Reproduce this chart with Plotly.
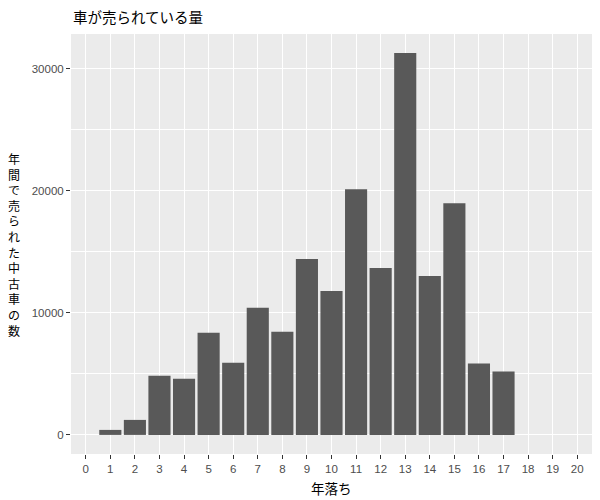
import plotly.graph_objects as go

# 年落ち (years since first registration) and used cars sold per year
years = [1, 2, 3, 4, 5, 6, 7, 8, 9, 10, 11, 12, 13, 14, 15, 16, 17]
counts = [410, 1230, 4840, 4590, 8360, 5900, 10410, 8440, 14400,
          11790, 20110, 13670, 31270, 13020, 18970, 5840, 5190]
x_ticks = list(range(0, 21))
y_ticks = [0, 10000, 20000, 30000]

title = "車が売られている量"
x_title = "年落ち"
y_title = "年間で売られた中古車の数"

jp_font = "Noto Sans CJK JP, Liberation Sans, sans-serif"
num_font = "Liberation Sans, Arial, sans-serif"

# panel box in pixels: left 71, right 592, top 34, bottom 454
W, H = 600, 500
L, R, T, B = 71, 8, 34, 46
pw, ph = W - L - R, H - T - B

fig = go.Figure()
fig.add_trace(go.Bar(x=years, y=counts, width=0.9,
                     marker=dict(color="#595959", line=dict(width=0)),
                     hoverinfo="x+y"))

fig.update_layout(
    width=W, height=H,
    margin=dict(l=L, r=R, t=T, b=B, autoexpand=False),
    paper_bgcolor="white",
    plot_bgcolor="#EBEBEB",
    showlegend=False,
    font=dict(family=num_font),
)

fig.update_xaxes(
    range=[-0.6, 20.6], tickvals=x_ticks, ticktext=[str(t) for t in x_ticks],
    showgrid=True, gridcolor="white", gridwidth=1.1, zeroline=False,
    ticks="outside", ticklen=4, tickcolor="#333333", tickwidth=1.1,
    tickfont=dict(family=num_font, size=11.5, color="#4D4D4D"),
    automargin=False, showline=False,
)
fig.update_yaxes(
    range=[-1563, 32833], tickvals=y_ticks, ticktext=[str(t) for t in y_ticks],
    showgrid=True, gridcolor="white", gridwidth=1.1, zeroline=False,
    minor=dict(dtick=5000, tick0=0, showgrid=True, gridcolor="white", gridwidth=0.6),
    ticks="outside", ticklen=4, tickcolor="#333333", tickwidth=1.1,
    tickfont=dict(family=num_font, size=11.5, color="#4D4D4D"),
    automargin=False, showline=False,
)

# title, top-left above the panel
fig.add_annotation(
    text=title, xref="paper", yref="paper",
    x=0, xanchor="left", y=1 + (T - 17) / ph, yanchor="middle",
    showarrow=False, font=dict(family=jp_font, size=14.5, color="black"),
)
# x axis title under the tick labels
fig.add_annotation(
    text=x_title, xref="paper", yref="paper",
    x=0.5, xanchor="center", y=-(488 - (H - B)) / ph, yanchor="middle",
    showarrow=False, font=dict(family=jp_font, size=13.5, color="black"),
)
# vertical, character-stacked y axis title like the original
fig.add_annotation(
    text="<br>".join(y_title), xref="paper", yref="paper",
    x=-(L - 6) / pw, xanchor="left", y=0.5, yanchor="middle",
    showarrow=False, align="center",
    font=dict(family=jp_font, size=12, color="black"),
)

# drop the browser's default 8px body margin so the figure sits at 0,0
fig.write_html("out.html", config={"displayModeBar": False},
               post_script="document.body.style.margin='0px';")
